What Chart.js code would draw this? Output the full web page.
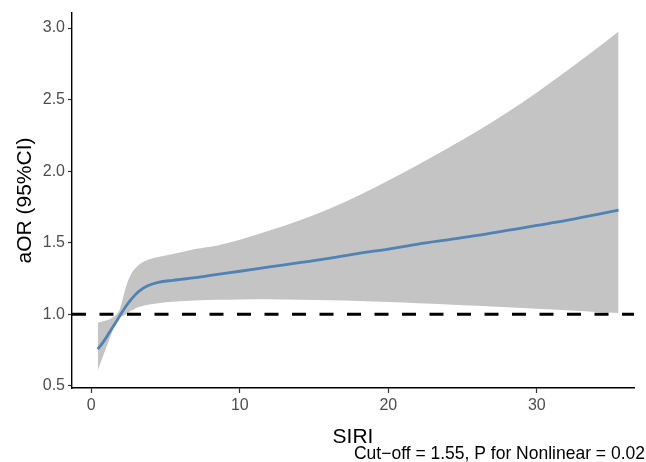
<!DOCTYPE html>
<html>
<head>
<meta charset="utf-8">
<script src="https://cdn.jsdelivr.net/npm/chart.js@4.4.1/dist/chart.umd.min.js"></script>
<style>
  body { margin: 0; background: #fff; }
  #wrap { width: 646px; height: 462px; }
</style>
</head>
<body>
<div id="wrap"><canvas id="rcsChart"></canvas></div>
<script>
// Valores (SIRI vs aOR)
const siri = [0.43, 0.8, 1.2, 1.6, 1.9, 2.1, 2.3, 2.5, 2.7, 3.0, 3.2, 3.8, 4.5, 5.5, 7, 8.5, 10, 12, 14, 16, 18, 20, 22, 24, 26, 28, 30, 32, 34, 35.5];
const aor = [0.756, 0.805, 0.87, 0.935, 0.985, 1.018, 1.05, 1.08, 1.105, 1.14, 1.16, 1.198, 1.222, 1.237, 1.255, 1.278, 1.30, 1.33, 1.36, 1.39, 1.425, 1.455, 1.49, 1.52, 1.55, 1.585, 1.62, 1.655, 1.695, 1.728];
const ciUpper = [0.94, 0.95, 0.962, 0.99, 1.03, 1.10, 1.18, 1.24, 1.285, 1.325, 1.345, 1.38, 1.40, 1.42, 1.455, 1.48, 1.52, 1.585, 1.655, 1.735, 1.83, 1.935, 2.045, 2.16, 2.28, 2.41, 2.55, 2.70, 2.855, 2.976];
const ciLower = [0.605, 0.71, 0.82, 0.925, 0.975, 0.988, 0.998, 1.012, 1.025, 1.042, 1.05, 1.065, 1.077, 1.087, 1.095, 1.10, 1.103, 1.104, 1.10, 1.097, 1.092, 1.085, 1.077, 1.068, 1.058, 1.048, 1.038, 1.027, 1.015, 1.008];
const refValue = 1;
const xTicks = [0, 10, 20, 30];
const yTicks = [0.5, 1.0, 1.5, 2.0, 2.5, 3.0];
const xMin = -1.3, xMax = 36.54;
const yMin = 0.484, yMax = 3.105;

const toPoints = (ys) => siri.map((x, i) => ({ x: x, y: ys[i] }));

// Texto de pie (caption)
const captionPlugin = {
    id: 'caption',
    afterDraw(chart) {
        const ctx = chart.ctx;
        ctx.save();
        ctx.font = '17.5px "Liberation Sans", Arial, sans-serif';
        ctx.fillStyle = '#000';
        ctx.textAlign = 'right';
        ctx.textBaseline = 'alphabetic';
        ctx.fillText('Cut\u2212off = 1.55, P for Nonlinear = 0.02', 645, 459);
        ctx.restore();
    }
};

const tickFont = { family: '"Liberation Sans", Arial, sans-serif', size: 16 };
const titleFont = { family: '"Liberation Sans", Arial, sans-serif', size: 21 };

new Chart(document.getElementById('rcsChart'), {
    type: 'line',
    data: {
        datasets: [
            {
                label: 'aOR',
                data: toPoints(aor),
                borderColor: '#5082B3',
                borderWidth: 2.8,
                pointRadius: 0,
                cubicInterpolationMode: 'monotone',
                fill: false
            },
            {
                label: 'ref',
                data: [{ x: xMin, y: refValue }, { x: xMax, y: refValue }],
                borderColor: '#000',
                borderWidth: 3,
                borderDash: [14, 13.5],
                pointRadius: 0,
                fill: false
            },
            {
                label: 'upper',
                data: toPoints(ciUpper),
                borderWidth: 0,
                borderColor: 'rgba(0,0,0,0)',
                backgroundColor: '#C4C4C4',
                pointRadius: 0,
                cubicInterpolationMode: 'monotone',
                fill: '+1'
            },
            {
                label: 'lower',
                data: toPoints(ciLower),
                borderWidth: 0,
                borderColor: 'rgba(0,0,0,0)',
                pointRadius: 0,
                cubicInterpolationMode: 'monotone',
                fill: false
            }
        ]
    },
    options: {
        responsive: true,
        maintainAspectRatio: false,
        animation: false,
        layout: { padding: { top: 13, right: 12, left: 0, bottom: 0 } },
        plugins: {
            legend: { display: false },
            tooltip: { enabled: false }
        },
        scales: {
            x: {
                type: 'linear',
                min: xMin,
                max: xMax,
                afterBuildTicks: (scale) => { scale.ticks = xTicks.map(v => ({ value: v })); },
                afterFit: (scale) => { scale.height = 74; },
                ticks: { color: '#4D4D4D', font: tickFont, padding: 3, maxRotation: 0 },
                grid: { display: true, drawOnChartArea: false, drawTicks: true, tickLength: 5, tickColor: '#333', tickWidth: 1.2 },
                border: { display: true, color: '#000', width: 1.4 },
                title: { display: true, text: 'SIRI', color: '#000', font: titleFont, padding: { top: 0, bottom: 12 } }
            },
            y: {
                type: 'linear',
                min: yMin,
                max: yMax,
                afterBuildTicks: (scale) => { scale.ticks = yTicks.map(v => ({ value: v })); },
                afterFit: (scale) => { scale.width = 72; },
                ticks: { color: '#4D4D4D', font: tickFont, padding: 3, callback: (v) => Number(v).toFixed(1) },
                grid: { display: true, drawOnChartArea: false, drawTicks: true, tickLength: 4, tickColor: '#333', tickWidth: 1.2 },
                border: { display: true, color: '#000', width: 1.4 },
                title: { display: true, text: 'aOR (95%CI)', color: '#000', font: titleFont, padding: { top: 13, bottom: 0 } }
            }
        }
    },
    plugins: [captionPlugin]
});
</script>
</body>
</html>
